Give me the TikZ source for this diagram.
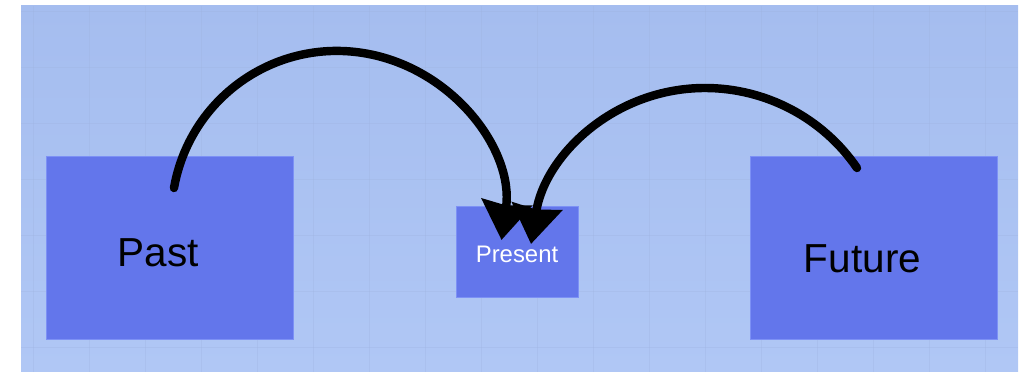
\documentclass[tikz,border=0pt]{standalone}
\usepackage{fontspec}
\setmainfont{Liberation Sans}
\usetikzlibrary{arrows.meta,calc}
\definecolor{bgtop}{RGB}{165,189,239}
\definecolor{bgbot}{RGB}{176,199,245}
\definecolor{gridc}{RGB}{158,178,222}
\definecolor{boxc}{RGB}{99,118,235}
\definecolor{boxedge}{RGB}{125,145,245}
\tikzset{
  box/.style={fill=boxc, draw=boxedge, line width=0.6pt, inner sep=0pt},
  bigtext/.style={anchor=base, inner sep=0pt, font=\fontsize{28.8pt}{30pt}\selectfont, text=black},
  smalltext/.style={anchor=base, inner sep=0pt, font=\fontsize{17pt}{19pt}\selectfont, text=white},
  arc arrow/.style={line width=6pt, line cap=round, draw=black,
    -{Stealth[length=0.95cm,width=1.25cm,inset=0.08cm]}},
  gridline/.style={gridc, line width=0.4pt, draw opacity=0.3}
}
\begin{document}
\begin{tikzpicture}[x=0.025cm,y=0.025cm]
\useasboundingbox (0,0) rectangle (1023,372);
% background panel
\shade[top color=bgtop, bottom color=bgbot] (21,0) rectangle (1018,366);
\foreach \gx in {33,89,...,1017} \draw[gridline] (\gx,0) -- (\gx,366);
\foreach \gy in {25,81,...,361} \draw[gridline] (21,\gy) -- (1018,\gy);
% boxes
\node[box, minimum width=247*0.025cm, minimum height=183*0.025cm] (past) at (169.5,124.5) {};
\node[box, minimum width=122*0.025cm, minimum height=91*0.025cm] (present) at (517,120.5) {};
\node[box, minimum width=247*0.025cm, minimum height=183*0.025cm] (future) at (873.5,124.5) {};
% labels
\node[bigtext] (pasttext) at ($(past.center)+(-11,-19.5)$) {Past};
\node[smalltext] (presenttext) at ($(present.center)+(0,-11.5)$) {Present};
\node[bigtext] (futuretext) at ($(future.center)+(-11,-25.5)$) {Future};
% connector points
\coordinate (s1) at (174,184);
\coordinate (m1) at (363,319);
\coordinate (e1) at (501.5,132);
\coordinate (s2) at (857,204);
\coordinate (t2) at (705,284);
\coordinate (e2) at (531,128);
% arcs
\draw[arc arrow] (s1) .. controls +(15.7,89.2) and +(-89.5,14.2) .. (m1)
  .. controls +(89.5,-14.2) and +(12.6,89.7) .. (e1);
\draw[arc arrow] (s2) .. controls +(-34.3,50.1) and +(60.7,0) .. (t2)
  .. controls +(-90.3,0) and +(14.3,89.2) .. (e2);
\end{tikzpicture}
\end{document}
